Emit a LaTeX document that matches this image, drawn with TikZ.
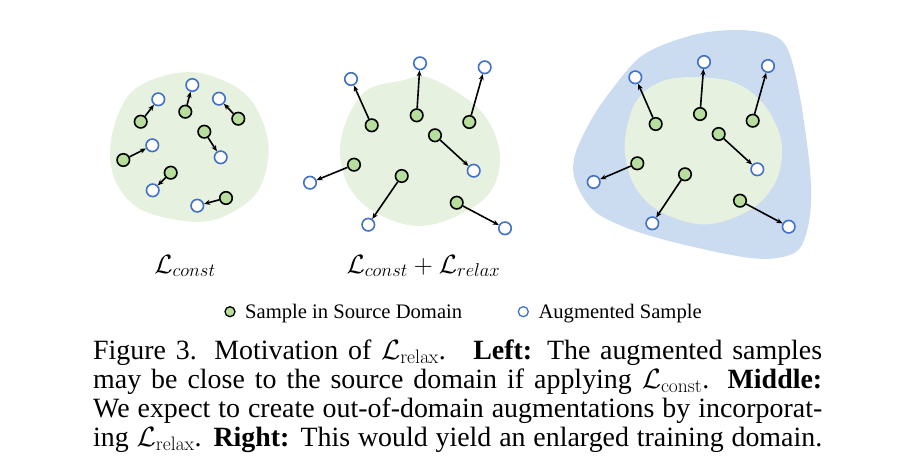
\RequirePackage{fix-cm}
\documentclass[tikz,border=0pt]{standalone}
\usepackage[no-math]{fontspec}
\setmainfont{Liberation Serif}
\usetikzlibrary{arrows.meta}
\definecolor{domgreen}{RGB}{231,241,224}
\definecolor{domblue}{RGB}{203,219,240}
\definecolor{ptgreen}{RGB}{183,222,157}
\definecolor{ptblue}{RGB}{66,113,200}
\newlength\capw
\newlength\legw
\begin{document}
\settowidth{\capw}{\fontsize{10pt}{12pt}\selectfont ing $\mathcal{L}_{\mathrm{relax}}$. \textbf{Right:} This would yield an enlarged training domain.}%
\pgfmathsetmacro\capsize{10*729/\capw}%
\settowidth{\legw}{\fontsize{10pt}{12pt}\selectfont Sample in Source Domain}%
\pgfmathsetmacro\legsize{10*217/\legw}%
\begin{tikzpicture}[x=1pt,y=-1pt,
  src/.style={circle,draw=black,fill=ptgreen,line width=1.6pt,minimum size=12.5pt,inner sep=0pt},
  aug/.style={circle,draw=ptblue,fill=white,line width=1.6pt,minimum size=12.5pt,inner sep=0pt},
  lsrc/.style={src,minimum size=10pt,line width=1.3pt},
  laug/.style={aug,minimum size=10pt,line width=1.3pt},
  arr/.style={-{Stealth[length=6pt,width=5pt]},line width=1.6pt,black},
  lossl/.style={anchor=base,inner sep=0pt},
  capl/.style={anchor=base west,inner sep=0pt}]
\useasboundingbox (0,0) rectangle (923,472);
% domains
\fill[domgreen] plot[smooth cycle,tension=0.6] coordinates {(200,73) (243,92) (264,125) (268,160) (255,195) (220,218) (185,221) (140,209) (115,180) (111,140) (128,96) (160,77)};
\fill[domgreen] plot[smooth cycle,tension=0.6] coordinates {(430,78) (477,107) (497,140) (499,170) (488,195) (463,213) (430,225) (400,223) (367,207) (347,183) (340,150) (348,117) (367,90) (400,81)};
\fill[domblue] plot[smooth cycle,tension=0.55] coordinates {(737,30) (772,35) (788,50) (800,97) (810,170) (810,215) (800,248) (777,258) (743,257) (677,243) (627,228) (593,210) (575,180) (575,155) (590,122) (610,92) (643,55) (693,35)};
\fill[domgreen] plot[smooth cycle,tension=0.6] coordinates {(693,77) (733,82) (760,100) (777,127) (782,153) (775,183) (753,208) (717,223) (687,222) (653,207) (633,183) (625,153) (627,127) (637,100) (660,82)};
% left panel
\node[src] (ag1) at (140.7,121.7) {}; \node[aug] (ab1) at (158.3,99.3) {};
\node[src] (ag2) at (185.3,111.7) {}; \node[aug] (ab2) at (192.3,85) {};
\node[src] (ag3) at (238.3,118.7) {}; \node[aug] (ab3) at (219,98.7) {};
\node[src] (ag4) at (204.3,131.7) {}; \node[aug] (ab4) at (220.7,157.3) {};
\node[src] (ag5) at (123.3,160) {};   \node[aug] (ab5) at (152.3,145.3) {};
\node[src] (ag6) at (170.7,172.7) {}; \node[aug] (ab6) at (152.7,190.3) {};
\node[src] (ag7) at (226,198) {};     \node[aug] (ab7) at (197.3,205.7) {};
\foreach \i in {1,...,7} \draw[arr] (ag\i) -- (ab\i);
% middle panel
\node[src] (bg1) at (371.7,125.3) {}; \node[aug] (bb1) at (351,79) {};
\node[src] (bg2) at (416.7,115.3) {}; \node[aug] (bb2) at (420,63.3) {};
\node[src] (bg3) at (469.3,122) {};   \node[aug] (bb3) at (484.7,67.3) {};
\node[src] (bg4) at (435,135.3) {};   \node[aug] (bb4) at (473.7,170.7) {};
\node[src] (bg5) at (354,164.7) {};   \node[aug] (bb5) at (310,182.7) {};
\node[src] (bg6) at (401.7,176) {};   \node[aug] (bb6) at (368.3,224.7) {};
\node[src] (bg7) at (456.7,202.7) {}; \node[aug] (bb7) at (505,228.3) {};
\foreach \i in {1,...,7} \draw[arr] (bg\i) -- (bb\i);
% right panel
\node[src] (cg1) at (655.7,124) {};   \node[aug] (cb1) at (635.3,77.3) {};
\node[src] (cg2) at (700,114) {};     \node[aug] (cb2) at (704,62) {};
\node[src] (cg3) at (752.7,120.7) {}; \node[aug] (cb3) at (768,66) {};
\node[src] (cg4) at (718.7,134) {};   \node[aug] (cb4) at (757.3,169.3) {};
\node[src] (cg5) at (637.3,163.3) {}; \node[aug] (cb5) at (593.7,182) {};
\node[src] (cg6) at (685,174.3) {};   \node[aug] (cb6) at (652.3,223.3) {};
\node[src] (cg7) at (740,200.7) {};   \node[aug] (cb7) at (788.7,226.7) {};
\foreach \i in {1,...,7} \draw[arr] (cg\i) -- (cb\i);
% loss labels
\node[lossl,font=\fontsize{26.5pt}{30pt}\selectfont] (l1) at (185,273) {$\mathcal{L}_{const}$};
\node[lossl,font=\fontsize{26.5pt}{30pt}\selectfont] (l2) at (423.5,273) {$\mathcal{L}_{const}+\mathcal{L}_{relax}$};
% legend
\node[lsrc] (k1) at (230,311.7) {};
\node[capl,font=\fontsize{\legsize pt}{\legsize pt}\selectfont] (k1t) at (245,318) {Sample in Source Domain};
\node[laug] (k2) at (523.3,311.7) {};
\node[capl,font=\fontsize{\legsize pt}{\legsize pt}\selectfont] (k2t) at (538.3,318) {Augmented Sample};
% caption
\begin{scope}[every node/.style={capl,font=\fontsize{\capsize pt}{29pt}\selectfont}]
\node (c1) at (93,359.3) {\makebox[729pt][s]{Figure 3. Motivation of $\mathcal{L}_{\mathrm{relax}}$. \ \textbf{Left:} The augmented samples}};
\node (c2) at (93,388.3) {\makebox[729pt][s]{may be close to the source domain if applying $\mathcal{L}_{\mathrm{const}}$. \textbf{Middle:}}};
\node (c3) at (93,417.3) {\makebox[729pt][s]{We expect to create out-of-domain augmentations by incorporat-}};
\node (c4) at (93,446.3) {\makebox[729pt][s]{ing $\mathcal{L}_{\mathrm{relax}}$. \textbf{Right:} This would yield an enlarged training domain.}};
\end{scope}
\end{tikzpicture}
\end{document}
